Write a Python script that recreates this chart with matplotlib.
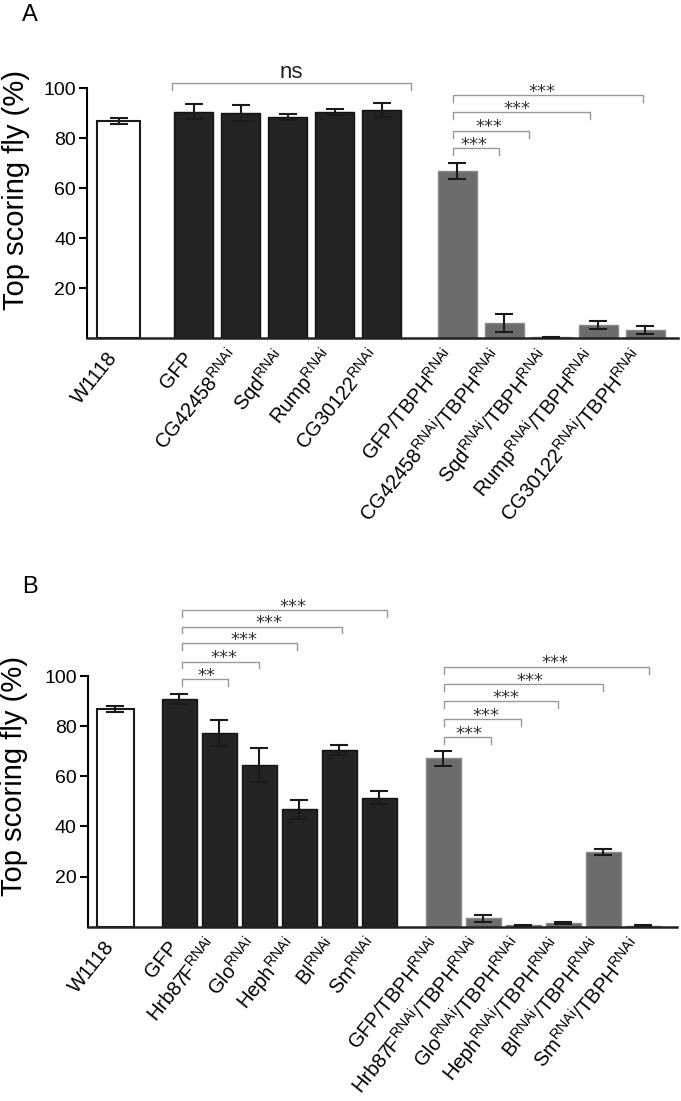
import matplotlib
matplotlib.use("Agg")
import matplotlib.pyplot as plt
import numpy as np

plt.rcParams["font.family"] = ["Liberation Sans", "DejaVu Sans"]
plt.rcParams["mathtext.fontset"] = "custom"
plt.rcParams["mathtext.rm"] = "Liberation Sans"
plt.rcParams["mathtext.it"] = "Liberation Sans:italic"

R = r"$^{\mathrm{RNAi}}$"

# ---- panel A data ----
labels_a = ["W1118", "GFP", "CG42458" + R, "Sqd" + R, "Rump" + R, "CG30122" + R,
            "GFP/TBPH" + R, "CG42458" + R + "/TBPH" + R, "Sqd" + R + "/TBPH" + R,
            "Rump" + R + "/TBPH" + R, "CG30122" + R + "/TBPH" + R]
groups_a = ["ctrl", "rnai", "rnai", "rnai", "rnai", "rnai",
            "tbph", "tbph", "tbph", "tbph", "tbph"]
mean_a = [87.0, 90.5, 90.0, 88.3, 90.4, 91.2, 66.9, 6.0, 0.3, 5.2, 3.2]
err_a = [1.2, 3.0, 3.3, 1.2, 1.3, 2.9, 3.2, 3.7, 0.2, 1.6, 1.5]
# (from bar, to bar, bracket height, label)
sig_a = [(1, 5, 101.9, "ns"),
         (6, 7, 75.9, "***"), (6, 8, 82.9, "***"),
         (6, 9, 90.3, "***"), (6, 10, 97.2, "***")]

# ---- panel B data ----
labels_b = ["W1118", "GFP", "Hrb87F" + R, "Glo" + R, "Heph" + R, "Bl" + R, "Sm" + R,
            "GFP/TBPH" + R, "Hrb87F" + R + "/TBPH" + R, "Glo" + R + "/TBPH" + R,
            "Heph" + R + "/TBPH" + R, "Bl" + R + "/TBPH" + R, "Sm" + R + "/TBPH" + R]
groups_b = ["ctrl", "rnai", "rnai", "rnai", "rnai", "rnai", "rnai",
            "tbph", "tbph", "tbph", "tbph", "tbph", "tbph"]
mean_b = [87.0, 90.8, 77.3, 64.5, 46.8, 70.4, 51.5, 67.2, 3.3, 0.5, 1.3, 29.8, 0.4]
err_b = [1.2, 2.1, 5.2, 6.6, 3.7, 2.1, 2.6, 3.0, 1.5, 0.2, 0.4, 1.3, 0.2]
sig_b = [(1, 2, 98.7, "**"), (1, 3, 105.7, "***"), (1, 4, 113.0, "***"),
         (1, 5, 119.7, "***"), (1, 6, 126.3, "***"),
         (7, 8, 75.5, "***"), (7, 9, 82.7, "***"), (7, 10, 89.9, "***"),
         (7, 11, 96.8, "***"), (7, 12, 103.7, "***")]

face = {"ctrl": "white", "rnai": "#232323", "tbph": "#6c6c6c"}
edge = {"ctrl": "#1a1a1a", "rnai": "#111111", "tbph": "#8a8a8a"}


def positions(groups, gap=1.6):
    pos, x = [], 0.0
    for i, g in enumerate(groups):
        if i > 0:
            x += gap if g != groups[i - 1] else 1.0
        pos.append(x)
    return np.array(pos)


def panel(ax, labels, groups, means, errs, sigs, width, xlim, ymax,
          end_shift, star_frac):
    pos = positions(groups)
    for i, g in enumerate(groups):
        w = 0.93 if g == "ctrl" else width
        ax.bar(pos[i], means[i], w, color=face[g], edgecolor=edge[g],
               linewidth=1.5 if g == "ctrl" else 1.0, zorder=2,
               yerr=errs[i], error_kw=dict(ecolor="#1a1a1a", elinewidth=1.5,
                                          capsize=6.8, capthick=1.5, zorder=3))
    for k, (i, j, h, lab) in enumerate(sigs):
        x0 = pos[i] + end_shift[k][0]
        x1 = pos[j] + end_shift[k][1]
        ax.plot([x0, x0, x1, x1], [h - 2.7, h, h, h - 2.7], color="#9a9a9a",
                lw=1.0, clip_on=False)
        if lab == "ns":
            ax.text((x0 + x1) / 2, h + 2.3, lab, ha="center", va="baseline",
                    fontsize=16, color="#222222")
        else:
            xm = x0 + star_frac * (x1 - x0)
            ax.text(xm, h - 0.6, lab, ha="center", va="baseline",
                    fontsize=13, color="#333333", family="DejaVu Sans")

    ax.set_xlim(*xlim)
    ax.set_ylim(0, ymax)
    ax.spines["top"].set_visible(False)
    ax.spines["right"].set_visible(False)
    ax.spines["left"].set_bounds(0, 100)
    ax.spines["left"].set_linewidth(1.5)
    ax.spines["bottom"].set_linewidth(1.8)
    ax.spines["bottom"].set_color("#222222")
    ax.set_yticks([20, 40, 60, 80, 100])
    ax.tick_params(axis="y", direction="out", length=6, width=1.5,
                   labelsize=14, pad=2)
    ax.set_xticks([])
    for p, lab in zip(pos, labels):
        ax.annotate(lab, xy=(p, 0), xycoords="data", xytext=(0, -20),
                    textcoords="offset pixels", rotation=51, ha="right",
                    va="baseline", rotation_mode="anchor", fontsize=14.5,
                    annotation_clip=False)
    ax.set_ylabel("Top scoring fly (%)", fontsize=21)


fig = plt.figure(figsize=(6.81, 11.01), dpi=100)

ax_a = fig.add_axes([0.1278, 0.6930, 0.8678, 0.2570])
shift_a = [(-0.46, 0.62), (-0.09, -0.11), (-0.09, -0.47), (-0.09, -0.17), (-0.09, -0.05)]
panel(ax_a, labels_a, groups_a, mean_a, err_a, sig_a, 0.83, (-0.67, 11.9), 113.2,
      shift_a, 0.47)
ax_a.yaxis.set_label_coords(-0.0964, 0.523)

ax_b = fig.add_axes([0.1292, 0.1583, 0.8649, 0.3058])
shift_b = [(0.075, 0.22), (0.075, 0.0), (0.075, -0.065), (0.075, 0.07), (0.075, 0.2),
           (0.025, 0.185), (0.025, -0.065), (0.025, -0.13), (0.025, 0.0), (0.025, 0.15)]
panel(ax_b, labels_b, groups_b, mean_b, err_b, sig_b, 0.875, (-0.68, 14.04), 134.3,
      shift_b, 0.54)
ax_b.yaxis.set_label_coords(-0.102, 0.448)

fig.text(30 / 681, 1 - 15 / 1101, "A", ha="center", va="center", fontsize=17)
fig.text(30 / 681, 1 - 587 / 1101, "B", ha="center", va="center", fontsize=17)

fig.savefig("out.png", dpi=100)
